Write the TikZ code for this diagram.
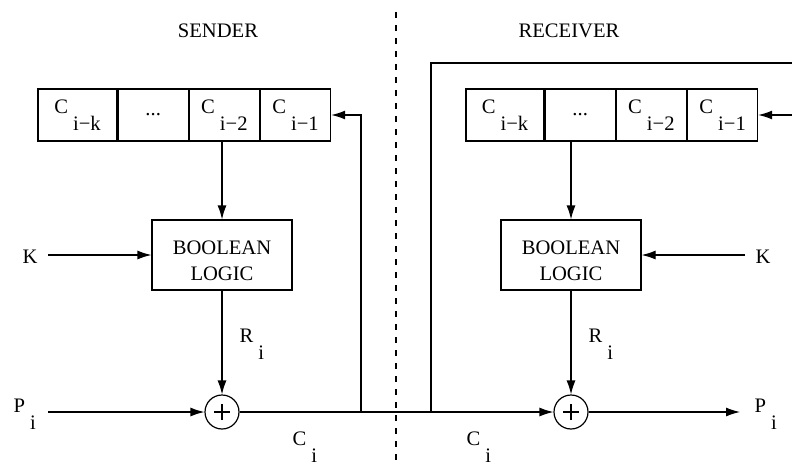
\documentclass[tikz,border=0pt]{standalone}
\usepackage{fontspec}
\setmainfont{Liberation Serif}
\usetikzlibrary{positioning, arrows.meta, calc}
\tikzset{
  cell/.style={draw, minimum width=35pt, minimum height=26pt, inner sep=0pt},
  logicbox/.style={draw, minimum width=70pt, minimum height=35pt, inner sep=0pt},
  logictext/.style={align=center, inner sep=0pt},
  xorgate/.style={draw, circle, minimum size=17pt, inner sep=0pt,
    path picture={\draw (path picture bounding box.center) ++(-4pt,0pt) -- ++(8pt,0pt);
                  \draw (path picture bounding box.center) ++(0pt,-4pt) -- ++(0pt,8pt);}},
  lbl/.style={anchor=base west, inner sep=0pt},
  sig/.style={-{Latex[length=7pt,width=4.5pt]}},
}
\newcommand{\subtxt}[2]{#1\hspace{2.5pt}\raisebox{-8.5pt}{#2}}

\begin{document}
\begin{tikzpicture}[x=0.5pt, y=-0.5pt, line width=0.6pt, font=\fontsize{10.3}{13}\selectfont]
  \useasboundingbox (0,0) rectangle (792,465);

  % Titles and divider
  \node (SendTitle) at (218,31) {SENDER};
  \node (RecvTitle) at (569,31) {RECEIVER};
  \coordinate (DivTop) at (396,12);
  \coordinate (DivBot) at (396,465);
  \draw[dash pattern=on 3pt off 3.5pt] (DivTop) -- (DivBot);

  % Sender shift register
  \node[cell, minimum width=39.5pt] (s1) at (77.5,115) {\subtxt{C}{i−k}};
  \node[cell, right=0pt of s1] (s2) {...};
  \node[cell, right=0pt of s2] (s3) {\subtxt{C}{i−2}};
  \node[cell, right=0pt of s3] (s4) {\subtxt{C}{i−1}};

  % Receiver shift register
  \node[cell, minimum width=39pt] (r1) at (505,115) {\subtxt{C}{i−k}};
  \node[cell, right=0pt of r1] (r2) {...};
  \node[cell, right=0pt of r2] (r3) {\subtxt{C}{i−2}};
  \node[cell, right=0pt of r3] (r4) {\subtxt{C}{i−1}};

  % Logic blocks and adders
  \node[logicbox] (sb) at (222,255) {};
  \node[logictext] (sbt) at (222,261) {BOOLEAN\\LOGIC};
  \node[logicbox] (rb) at (571,255) {};
  \node[logictext] (rbt) at (571,261) {BOOLEAN\\LOGIC};
  \node[xorgate] (xs) at (222,412) {};
  \node[xorgate] (xr) at (571,412) {};

  % Labels
  \node[lbl] (ks) at (22,263) {K};
  \node[lbl] (kr) at (755,263) {K};
  \node[lbl] (ps) at (13,412) {\subtxt{P}{i}};
  \node[lbl] (pr) at (754,412) {\subtxt{P}{i}};
  \node[lbl] (rs) at (239,342) {\subtxt{R}{i}};
  \node[lbl] (rr) at (588,342) {\subtxt{R}{i}};
  \node[lbl] (cs) at (292,445) {\subtxt{C}{i}};
  \node[lbl] (cr) at (466,445) {\subtxt{C}{i}};

  % Free ends and taps
  \coordinate (KsIn) at (48,255);
  \coordinate (KrIn) at (745,255);
  \coordinate (PIn) at (48,412);
  \coordinate (POut) at (740,412);
  \coordinate (SendTap) at (361,412);
  \coordinate (RecvTap) at (431,412);
  \coordinate (LoopTop) at (800,63);
  \coordinate (LoopIn) at (800,115);

  % Sender paths
  \draw[sig] (sb.north |- s3.south) -- (sb.north);
  \draw[sig] (KsIn) -- (sb.west);
  \draw[sig] (sb.south) -- (xs.north);
  \draw[sig] (PIn) -- (xs.west);
  \draw[sig] (SendTap) |- (s4.east);

  % Channel and receiver paths
  \draw[sig] (xs.east) -- (xr.west);
  \draw[sig] (rb.north |- r2.south) -- (rb.north);
  \draw[sig] (KrIn) -- (rb.east);
  \draw[sig] (rb.south) -- (xr.north);
  \draw[sig] (xr.east) -- (POut);
  \draw (RecvTap) |- (LoopTop);
  \draw[sig] (LoopIn) -- (r4.east);
\end{tikzpicture}
\end{document}
